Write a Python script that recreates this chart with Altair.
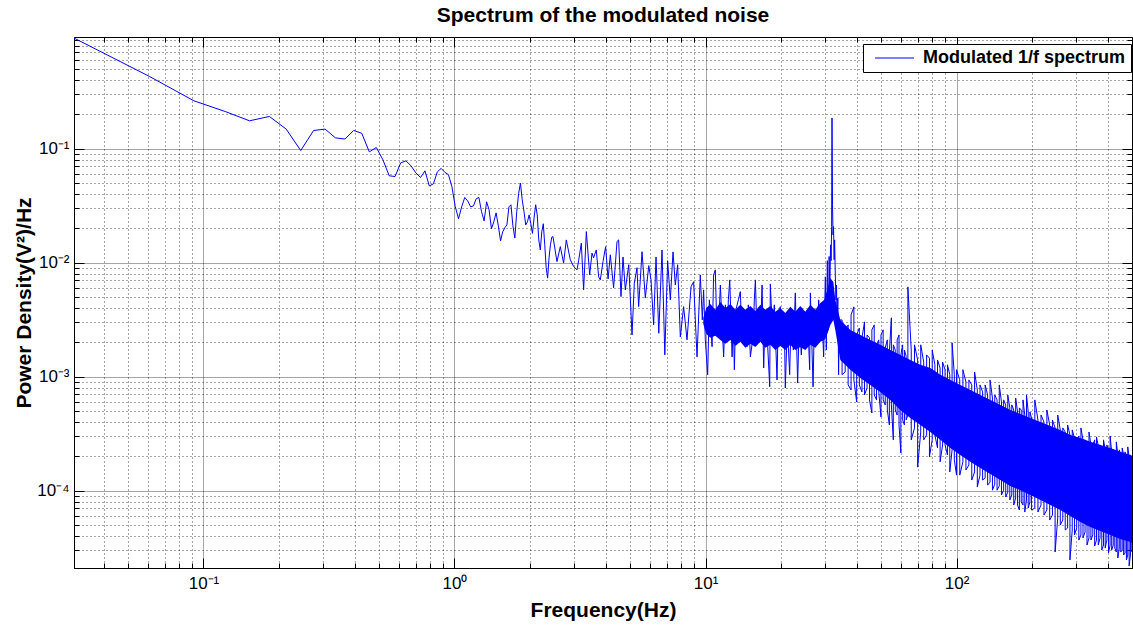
import altair as alt
import pandas as pd

TITLE = "Spectrum of the modulated noise"
X_TITLE = "Frequency(Hz)"
Y_TITLE = "Power Density(V²)/Hz"
SERIES = "Modulated 1/f spectrum"

# ---- spectrum values (Hz, V^2/Hz) ----
f_low = [0.0305, 0.0610, 0.0916, 0.1221, 0.1526, 0.1831, 0.2136, 0.2441, 0.2747, 0.3052,
         0.3357, 0.3662, 0.3967, 0.4272, 0.4578, 0.4883, 0.5188, 0.5493, 0.5798, 0.6104,
         0.6409, 0.6714, 0.7019, 0.7324, 0.7629, 0.7935, 0.8240, 0.8545, 0.8850, 0.9155,
         0.9460, 0.9766, 1.0071, 1.0376, 1.0681, 1.0986, 1.1292, 1.1597, 1.1902, 1.2207,
         1.2512, 1.2817, 1.3123, 1.3428, 1.3733, 1.4038, 1.4343, 1.4648, 1.4954, 1.5259,
         1.5564, 1.5869, 1.6174, 1.6479, 1.6785, 1.7090, 1.7395, 1.7700, 1.8005, 1.8311,
         1.8616, 1.8921, 1.9226, 1.9531, 1.9836, 2.0142, 2.0447, 2.0752, 2.1057, 2.1362,
         2.1667, 2.1973, 2.2278, 2.2583, 2.2888, 2.3193, 2.3499, 2.3804, 2.4109, 2.4414]
p_low = [0.93, 0.428, 0.262, 0.211, 0.175, 0.191, 0.148, 0.096, 0.144, 0.148,
         0.124, 0.121, 0.144, 0.136, 0.0935, 0.102, 0.0796, 0.0577, 0.0568, 0.0748,
         0.078, 0.0704, 0.0612, 0.0557, 0.0637, 0.047, 0.049, 0.0624, 0.067, 0.0618,
         0.059, 0.0464, 0.031, 0.0242, 0.0308, 0.0372, 0.0347, 0.0308, 0.0314, 0.0363,
         0.0372, 0.0279, 0.0232, 0.0341, 0.029, 0.0198, 0.0228, 0.0273, 0.021, 0.0155,
         0.0186, 0.0202, 0.0214, 0.0308, 0.0321, 0.021, 0.0164, 0.0279, 0.0402, 0.0497,
         0.0355, 0.0279, 0.0214, 0.0228, 0.0262, 0.0219, 0.018, 0.0246, 0.0321, 0.0262,
         0.0158, 0.0129, 0.0186, 0.0219, 0.0143, 0.009, 0.0073, 0.011, 0.0143, 0.0167]

f_mid = [2.468, 2.560, 2.640, 2.721, 2.789, 2.893, 2.982, 3.076, 3.123, 3.201,
         3.269, 3.352, 3.456, 3.530, 3.582, 3.672, 3.751, 3.810, 3.906, 4.000,
         4.091, 4.176, 4.304, 4.441, 4.508, 4.606, 4.692, 4.792, 4.946, 5.096,
         5.205, 5.335, 5.415, 5.586, 5.757, 5.943, 6.067, 6.213, 6.352, 6.514,
         6.710, 6.885, 7.066, 7.241, 7.423, 7.581, 7.745, 7.937, 8.181, 8.440,
         8.756, 8.967, 9.109, 9.252, 9.535]
p_mid = [0.0169, 0.0102, 0.0138, 0.0099, 0.0158, 0.0106, 0.00925, 0.00863, 0.0104, 0.0148,
         0.00576, 0.0187, 0.0078, 0.0121, 0.0110, 0.0129, 0.0075, 0.00705, 0.0102, 0.0138,
         0.0072, 0.0117, 0.0060, 0.0153, 0.0158, 0.00503, 0.0112, 0.00576, 0.00958, 0.00232,
         0.00659, 0.00902, 0.00411, 0.01246, 0.0049, 0.0094, 0.00705, 0.00284, 0.0112, 0.0024,
         0.0129, 0.00155, 0.0104, 0.00471, 0.0124, 0.00636, 0.00958, 0.00223, 0.00411, 0.0021,
         0.00613, 0.0068, 0.00314, 0.00149, 0.0078]

f_peak = [9.711, 9.828, 9.983, 10.20, 10.36, 10.62, 10.77, 10.94, 11.10, 11.28,
          11.46, 11.67, 11.81, 12.00, 12.19, 12.33, 12.49, 12.76, 12.91, 13.03,
          13.21, 13.52, 13.76, 13.95, 14.18, 14.41, 14.63, 14.81, 15.09, 15.47,
          15.65, 15.80, 16.02, 16.29, 16.54, 16.80, 17.05, 17.32, 17.64, 18.02,
          18.12, 18.46, 18.80, 19.27, 19.50, 19.86, 20.23, 20.60, 20.79, 21.18,
          21.64, 21.97, 22.38, 22.79, 23.28, 23.64, 24.08, 24.53, 24.98, 25.44,
          26.00, 26.16, 26.82, 27.14, 27.64, 28.24, 28.67, 29.07, 29.55, 30.02,
          30.29, 30.57, 30.85, 31.08, 31.28, 31.48, 31.65, 31.80, 31.91, 32.06,
          32.21, 32.36, 32.54, 32.68, 32.89, 33.08, 33.26, 33.44, 33.66, 33.90, 34.12]
p_peak = [0.00314, 0.00576, 0.0021, 0.00104, 0.00471, 0.00183, 0.0078, 0.00863, 0.00257, 0.00274,
          0.00636, 0.00257, 0.00149, 0.00426, 0.0021, 0.00471, 0.00705, 0.00149, 0.00314, 0.00115,
          0.00385, 0.00471, 0.00556, 0.00257, 0.00224, 0.00385, 0.00183, 0.00426, 0.00149, 0.00224,
          0.00471, 0.00705, 0.00257, 0.00336, 0.00224, 0.00636, 0.00119, 0.00385, 0.0021, 0.000816,
          0.0065, 0.00257, 0.00426, 0.000935, 0.00348, 0.00411, 0.0019, 0.00314, 0.000796, 0.00284,
          0.00104, 0.00385, 0.00171, 0.00542, 0.00088, 0.00314, 0.00155, 0.00348, 0.0019, 0.00385,
          0.00115, 0.00542, 0.000813, 0.00314, 0.0019, 0.00471, 0.0021, 0.00385, 0.00149, 0.0075,
          0.00171, 0.0104, 0.00257, 0.0113, 0.00576, 0.0143, 0.0104, 0.0207, 0.185, 0.0321,
          0.0175, 0.0207, 0.0106, 0.0158, 0.0078, 0.00471, 0.00636, 0.00257, 0.0049, 0.00104, 0.00314]

# dense part above 34 Hz: highest and lowest value seen in each frequency slot
f_high = [35, 36, 37, 38, 39, 40, 41, 42, 43, 44, 45, 46, 47, 48, 49, 50, 51, 52, 53, 54,
          55, 56, 57, 58, 59, 60, 61, 62, 63, 64,
          66, 68, 70, 72, 74, 76, 78, 80, 82, 84, 86, 88, 90, 92, 94, 96, 98, 100,
          103, 106, 109, 112, 115, 118, 121, 124, 127, 130, 133, 136, 139, 142, 145, 148,
          151, 154, 157, 160, 163, 166, 169, 172, 175, 178, 181, 184, 187, 190, 193, 196, 199,
          205, 211, 217, 223, 229, 235, 241, 247, 253, 259, 265, 271, 277, 283, 289, 295,
          301, 307, 313, 319, 325, 331, 337, 343, 349, 355, 361, 367, 373, 379, 385, 391,
          397, 403, 409, 415, 421, 427, 433, 439, 445, 451, 457, 463, 469, 475, 481, 487, 493, 499]
p_high_max = [0.00314, 0.00257, 0.00284, 0.00348, 0.00409, 0.00232, 0.00267, 0.00219, 0.00302, 0.00232,
              0.00219, 0.00257, 0.00284, 0.0019, 0.0021, 0.00232, 0.00257, 0.00179, 0.0021, 0.00164,
              0.00328, 0.0019, 0.00171, 0.0021, 0.00232, 0.00155, 0.0019, 0.00171, 0.00151, 0.00612,
              0.00171, 0.0019, 0.0014, 0.0019, 0.00134, 0.00155, 0.00145, 0.00171, 0.00127, 0.0014,
              0.00119, 0.00134, 0.00115, 0.00127, 0.00104, 0.00198, 0.00104, 0.00115,
              0.000936, 0.00115, 0.000899, 0.000936, 0.000846, 0.0011, 0.000764, 0.000846, 0.000734, 0.000846,
              0.000691, 0.000936, 0.00065, 0.000691, 0.000625, 0.000846, 0.0006, 0.000625, 0.000565, 0.000691,
              0.000532, 0.000565, 0.00051, 0.00065, 0.00049, 0.000532, 0.00051, 0.000625, 0.000461, 0.000691,
              0.00049, 0.00049, 0.000434,
              0.000625, 0.000417, 0.000461, 0.0004, 0.00051, 0.000377, 0.000417, 0.000355, 0.000461, 0.000341,
              0.000355, 0.000327, 0.000377, 0.000308, 0.000341, 0.00029, 0.000279, 0.000302, 0.000355, 0.000279,
              0.000279, 0.000268, 0.000327, 0.000252, 0.000252, 0.000279, 0.000296, 0.000247, 0.000252, 0.000237,
              0.000279, 0.000228, 0.000252, 0.000228, 0.000302, 0.000219, 0.000228, 0.000219, 0.000268, 0.000206,
              0.000228, 0.000202, 0.000237, 0.000206, 0.000219, 0.000194, 0.000242, 0.000194, 0.000206, 0.000186]
p_high_min = [0.00104, 0.0011, 0.000846, 0.000764, 0.000936, 0.0006, 0.000846, 0.000734, 0.000691, 0.000796,
              0.000625, 0.00048, 0.000691, 0.000625, 0.000734, 0.000443, 0.000625, 0.000565, 0.00051, 0.000377,
              0.000565, 0.000279, 0.00051, 0.000461, 0.000377, 0.000214, 0.000417, 0.000377, 0.000417, 0.000461,
              0.000279, 0.000355, 0.000161, 0.000327, 0.000279, 0.000308, 0.000198, 0.000279, 0.000308, 0.000237,
              0.000179, 0.000252, 0.000252, 0.000206, 0.000146, 0.000228, 0.000186, 0.000137,
              0.000137, 0.000179, 0.000152, 0.000168, 0.000124, 0.000146, 0.000108, 0.000137, 0.000124, 0.000129,
              0.000112, 0.000119, 0.000101, 0.000114, 0.000101, 0.00011, 9.17e-5, 0.000101, 8.8e-5, 9.7e-5,
              8.29e-5, 9.17e-5, 7.49e-5, 8.63e-5, 7.49e-5, 6.77e-5, 7.96e-5, 7.49e-5, 6.5e-5, 8.29e-5,
              7.05e-5, 7.96e-5, 6.77e-5,
              7.05e-5, 6.5e-5, 7.49e-5, 6.12e-5, 6.77e-5, 5.53e-5, 6.12e-5, 2.9e-5, 5.76e-5, 5.0e-5,
              5.53e-5, 4.52e-5, 4.71e-5, 2.47e-5, 4.52e-5, 4.09e-5, 4.71e-5, 3.69e-5, 4.09e-5, 3.85e-5,
              4.34e-5, 3.34e-5, 3.85e-5, 3.69e-5, 4.09e-5, 3.27e-5, 3.69e-5, 3.34e-5, 3.85e-5, 3.02e-5,
              3.34e-5, 3.14e-5, 3.69e-5, 2.84e-5, 3.34e-5, 3.02e-5, 3.34e-5, 3.14e-5, 2.9e-5, 2.57e-5,
              3.14e-5, 2.9e-5, 3.02e-5, 2.73e-5, 2.84e-5, 2.47e-5, 2.73e-5, 2.19e-5, 2.73e-5, 2.9e-5]

# solid core of the dense noise band (upper / lower edge)
core_f = [9.80, 10.07, 10.45, 10.94, 11.46, 12.00, 12.56, 13.15, 13.76, 14.41,
          15.09, 15.80, 16.54, 17.32, 18.12, 18.97, 19.86, 20.79, 21.77, 22.79,
          23.86, 24.98, 26.16, 27.38, 28.67, 29.74, 30.57, 31.42, 32.30, 32.89,
          34.44, 37.75, 41.38, 45.35,
          49.71, 54.49, 59.72, 65.45, 71.75, 78.63, 86.19, 94.47, 103.5, 113.5,
          124.4, 136.4, 149.4, 163.8, 179.6, 196.8, 215.8, 236.5, 259.1, 284.1,
          311.3, 341.3, 374.1, 410.0, 449.4, 492.6, 500]
core_top = [0.00328, 0.0040, 0.00434, 0.00385, 0.00452, 0.0040, 0.00434, 0.00385, 0.00426, 0.00385,
            0.00417, 0.00377, 0.00426, 0.00385, 0.00417, 0.0037, 0.0040, 0.00362, 0.00409, 0.0037,
            0.00417, 0.0037, 0.00426, 0.00385, 0.00443, 0.00471, 0.00576, 0.00734, 0.00677, 0.00471,
            0.00314, 0.00257, 0.00232, 0.0021,
            0.0019, 0.00171, 0.00155, 0.0014, 0.00127, 0.00119, 0.00104, 0.000936, 0.000846, 0.000764,
            0.000691, 0.000625, 0.000565, 0.00051, 0.000471, 0.000434, 0.0004, 0.000369, 0.000341, 0.000308,
            0.00029, 0.000268, 0.000252, 0.000237, 0.000219, 0.000206, 0.000202]
core_bot = [0.0029, 0.00237, 0.00219, 0.00228, 0.0021, 0.00194, 0.0021, 0.00186, 0.00202, 0.00179,
            0.00194, 0.00182, 0.00202, 0.00179, 0.0019, 0.00171, 0.00186, 0.00171, 0.0019, 0.00171,
            0.00182, 0.00171, 0.0019, 0.00179, 0.00202, 0.0021, 0.00237, 0.00284, 0.00314, 0.00257,
            0.0014, 0.00115, 0.000974, 0.000846,
            0.000734, 0.000625, 0.00051, 0.000434, 0.000377, 0.000327, 0.000279, 0.000237, 0.000206, 0.000179,
            0.000158, 0.00014, 0.000124, 0.00011, 0.000101, 9.17e-5, 8.29e-5, 7.49e-5, 6.77e-5, 6.0e-5,
            5.31e-5, 4.8e-5, 4.43e-5, 4.09e-5, 3.77e-5, 3.55e-5, 3.48e-5]

# ---- axes ----
x_ticks = [0.04, 0.05, 0.06, 0.07, 0.08, 0.09,
           0.1, 0.2, 0.3, 0.4, 0.5, 0.6, 0.7, 0.8, 0.9,
           1, 2, 3, 4, 5, 6, 7, 8, 9,
           10, 20, 30, 40, 50, 60, 70, 80, 90,
           100, 200, 300, 400, 500]
y_ticks = [3e-5, 4e-5, 5e-5, 6e-5, 7e-5, 8e-5, 9e-5,
           1e-4, 2e-4, 3e-4, 4e-4, 5e-4, 6e-4, 7e-4, 8e-4, 9e-4,
           1e-3, 2e-3, 3e-3, 4e-3, 5e-3, 6e-3, 7e-3, 8e-3, 9e-3,
           1e-2, 2e-2, 3e-2, 4e-2, 5e-2, 6e-2, 7e-2, 8e-2, 9e-2,
           0.1, 0.2, 0.3, 0.4, 0.5, 0.6, 0.7, 0.8, 0.9]
x_decades = [0.1, 1, 10, 100]
x_decade_labels = ["10⁻¹", "10⁰", "10¹", "10²"]
y_decades = [0.0001, 0.001, 0.01, 0.1]
y_decade_labels = ["10⁻⁴", "10⁻³", "10⁻²", "10⁻¹"]

W, H = 1058, 531
X_DOMAIN = [0.0305, 500]
Y_DOMAIN = [2.1e-5, 0.95]
FONT = "Liberation Sans"
BLUE = "#0000ff"
MAJOR = "abs(log(datum.value)/LN10 - round(log(datum.value)/LN10)) < 0.001"


def label_expr(vals, labels):
    expr = "''"
    for v, lab in zip(vals, labels):
        expr = f"abs(datum.value - {v!r}) < {v * 1e-6!r} ? '{lab}' : ({expr})"
    return expr


def main_axis(orient, values, labels_vals, labels_text, pad, **kw):
    return alt.Axis(
        orient=orient, values=values, labelExpr=label_expr(labels_vals, labels_text),
        labelFont=FONT, labelFontSize=17, labelColor="black", labelPadding=pad,
        labelOverlap=False, labelFlush=False,
        ticks=False, domain=True, domainColor="black", domainWidth=1,
        grid=True, gridColor="black", gridOpacity=0.7, gridWidth=1,
        gridDash={"condition": {"test": MAJOR, "value": [1, 1]}, "value": [1, 3]},
        titleFont=FONT, titleFontSize=21, titleFontWeight="bold", titleColor="black",
        titleBaseline="alphabetic", **kw)


def tick_axis(orient, offset, values):
    return alt.Axis(orient=orient, offset=offset, values=values, labels=False, grid=False,
                    domain=False, ticks=True, tickColor="black", tickWidth=1,
                    tickSize={"condition": {"test": MAJOR, "value": 10}, "value": 5},
                    title="")


xs = alt.Scale(type="log", domain=X_DOMAIN, nice=False)
ys = alt.Scale(type="log", domain=Y_DOMAIN, nice=False)

# line path: single readings, then the dense slots drawn as vertical max/min strokes
rows_f = f_low + f_mid + f_peak
rows_p = p_low + p_mid + p_peak
for i, f in enumerate(f_high):
    pair = [p_high_max[i], p_high_min[i]]
    if i % 2:
        pair.reverse()
    rows_f += [f, f]
    rows_p += pair
line_df = pd.DataFrame({"f": rows_f, "p": rows_p})
line_df["i"] = range(len(line_df))
line_df["series"] = SERIES
core_df = pd.DataFrame({"f": core_f, "top": core_top, "bot": core_bot})
anchor_df = pd.DataFrame({"f": [1.0], "p": [0.01]})

area = alt.Chart(core_df).mark_area(color=BLUE, opacity=1, clip=True).encode(
    x=alt.X("f:Q", scale=xs, axis=None),
    y=alt.Y("top:Q", scale=ys, axis=None),
    y2="bot:Q",
)

line = alt.Chart(line_df).mark_line(strokeWidth=1, clip=True).encode(
    x=alt.X("f:Q", scale=xs,
            axis=main_axis("bottom", x_ticks, x_decades, x_decade_labels, 7,
                           title=X_TITLE, titleY=48)),
    y=alt.Y("p:Q", scale=ys,
            axis=main_axis("left", y_ticks, y_decades, y_decade_labels, 5,
                           title=Y_TITLE, titleX=-44, titleY=H / 2, titleAngle=270,
                           titleAlign="center")),
    order=alt.Order("i:Q"),
    color=alt.Color("series:N", scale=alt.Scale(range=[BLUE]),
                    legend=alt.Legend(title=None, orient="none", legendX=789, legendY=7,
                                      fillColor="white", strokeColor="black", padding=5,
                                      symbolType="M-0.4,0H7.4", symbolSize=100,
                                      symbolStrokeWidth=1, labelOffset=37, labelLimit=400,
                                      labelFont=FONT, labelFontSize=18, labelFontWeight="bold",
                                      labelColor="black", cornerRadius=0)),
)

ticks_in_a = alt.Chart(anchor_df).mark_point(opacity=0).encode(
    x=alt.X("f:Q", scale=xs, axis=tick_axis("top", -H, x_ticks)),
    y=alt.Y("p:Q", scale=ys, axis=tick_axis("right", -W, y_ticks)),
)
ticks_in_b = alt.Chart(anchor_df).mark_point(opacity=0).encode(
    x=alt.X("f:Q", scale=xs, axis=tick_axis("bottom", -H, x_ticks)),
    y=alt.Y("p:Q", scale=ys, axis=tick_axis("left", -W, y_ticks)),
)

chart = (
    alt.layer(area, line, ticks_in_a, ticks_in_b)
    .resolve_axis(x="independent", y="independent")
    .properties(
        width=W, height=H,
        title=alt.TitleParams(TITLE, font=FONT, fontSize=21, fontWeight="bold", color="black",
                              anchor="middle", offset=5),
        padding={"left": 74, "top": 37, "right": 1, "bottom": 58},
        autosize=alt.AutoSizeParams(type="none"),
        background="white",
    )
    .configure_view(stroke="black", strokeWidth=1)
)

chart.save("out.html", embed_options={"renderer": "svg", "actions": False})
